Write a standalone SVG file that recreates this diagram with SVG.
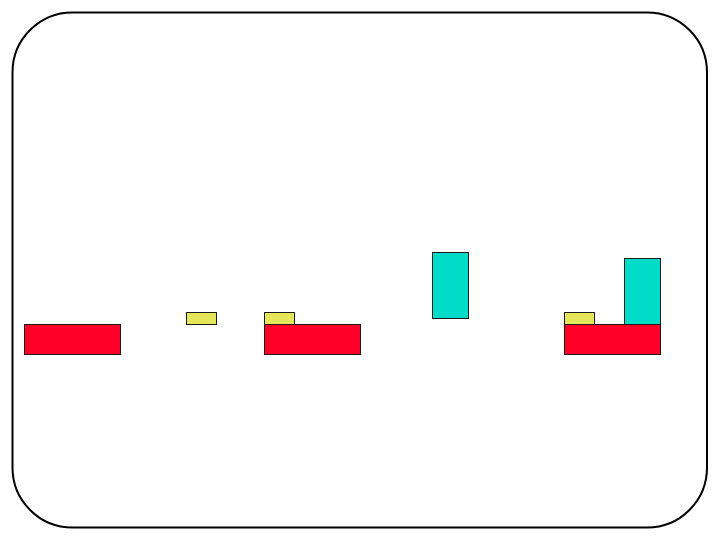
<svg xmlns="http://www.w3.org/2000/svg" width="719" height="539" viewBox="0 0 719 539">
<style>
.frame{fill:none;stroke:#000;stroke-width:2}
.b{stroke:#1a1a1a;stroke-width:1}
.red{fill:#ff0028}
.yel{fill:#e6e65a}
.cyan{fill:#00dcc8}
</style>
<rect width="719" height="539" fill="#fff"/>
<rect class="frame" x="12.5" y="12.5" width="694.5" height="515" rx="60" ry="60"/>
<g id="red1"><rect class="b red" x="24.5" y="324.5" width="96" height="30"/></g>
<g id="yellow1"><rect class="b yel" x="186.5" y="312.5" width="30" height="12"/></g>
<g id="yellow2"><rect class="b yel" x="264.5" y="312.5" width="30" height="12"/></g>
<g id="red2"><rect class="b red" x="264.5" y="324.5" width="96" height="30"/></g>
<g id="cyan1"><rect class="b cyan" x="432.5" y="252.5" width="36" height="66"/></g>
<g id="yellow3"><rect class="b yel" x="564.5" y="312.5" width="30" height="12"/></g>
<g id="cyan2"><rect class="b cyan" x="624.5" y="258.5" width="36" height="66"/></g>
<g id="red3"><rect class="b red" x="564.5" y="324.5" width="96" height="30"/></g>
<g id="connectors"></g>
</svg>
